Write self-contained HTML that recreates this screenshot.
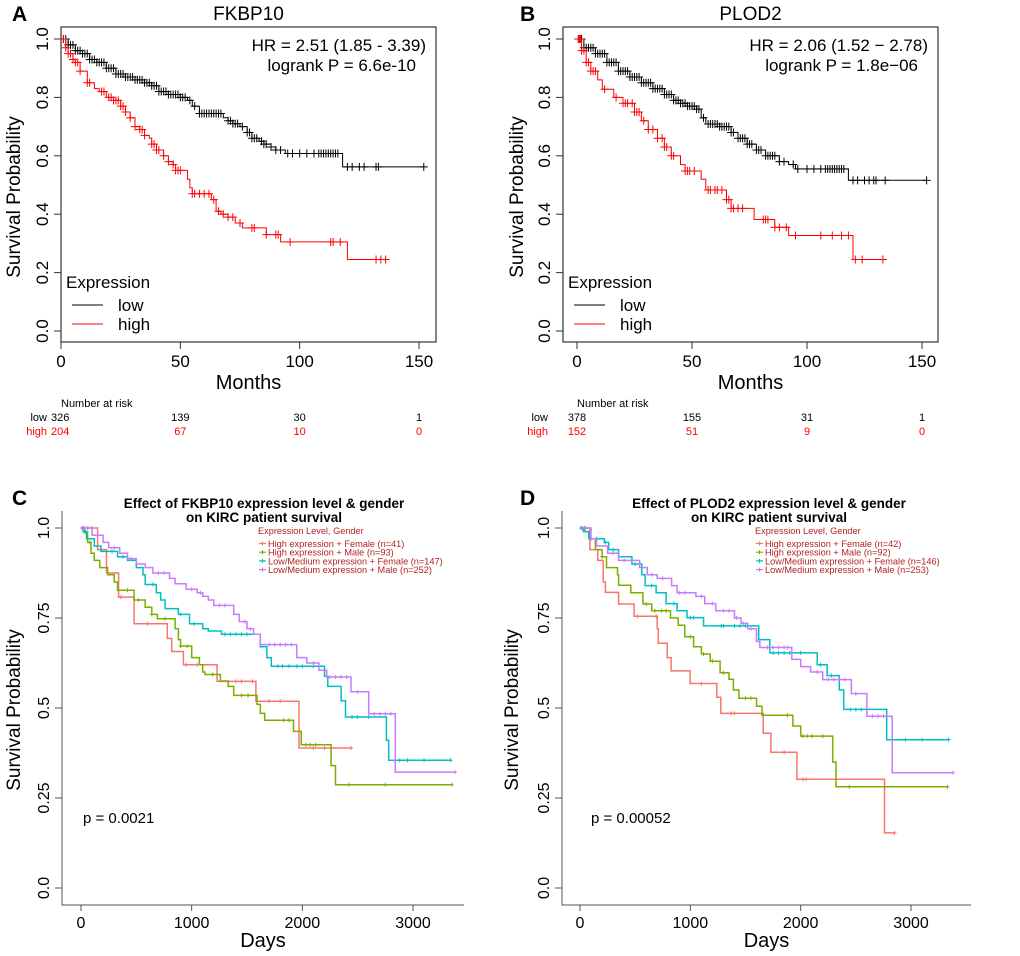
<!DOCTYPE html>
<html><head><meta charset="utf-8"><style>
html,body{margin:0;padding:0;background:#fff;}
svg{display:block;font-family:"Liberation Sans",Arial,sans-serif;}
</style></head><body>
<svg id="fig" width="1020" height="956" viewBox="0 0 1020 956" xmlns="http://www.w3.org/2000/svg">
<g id="static">
<text x="12" y="21" font-size="21" font-weight="bold">A</text>
<text x="520" y="21" font-size="21" font-weight="bold">B</text>
<text x="12" y="505" font-size="21" font-weight="bold">C</text>
<text x="520" y="505" font-size="21" font-weight="bold">D</text>
</g>
</svg>
<script>
// ---------- Panel A data (FKBP10, months) ----------
const aLowT = [0,3,6,9,12,15,19,23,27,31,35,38,41,45,50,53,55,58,68,70,72,75,78,80,83,85,88,90,94,118];
const aLowS = [1,0.98,0.96,0.95,0.93,0.92,0.90,0.88,0.87,0.86,0.85,0.84,0.82,0.81,0.80,0.79,0.77,0.745,0.73,0.72,0.71,0.70,0.68,0.66,0.65,0.64,0.63,0.62,0.608,0.562];
const aLowC = [1,2,3,4,5,6,7,8,9,10,11,12,13,14,15,16,17,18,19,20,21,22,23,24,25,26,27,28,29,30,31,32,33,34,35,36,37,38,39,40,41,42,43,44,45,46,47,48,49,50,51,52,54,56,58,59,60,61,62,63,64,65,66,67,70,71,72,73,74,76,78,79,80,81,82,84,85,86,88,90,92,95,97,100,103,106,108,109,110,111,112,113,114,115,116,120,122,125,127,132,133,152];
const aHighT = [0,2,3,5,6,8,11,14,16,19,22,25,27,29,31,33,35,37,38,40,43,45,47,48,53,54,55,63,65,67,70,73,76,86,92,120];
const aHighS = [1,0.97,0.95,0.93,0.92,0.89,0.85,0.83,0.82,0.80,0.79,0.77,0.75,0.73,0.70,0.69,0.67,0.66,0.64,0.62,0.60,0.58,0.57,0.55,0.52,0.49,0.47,0.45,0.41,0.40,0.39,0.37,0.353,0.33,0.305,0.245];
const aHighC = [1,2,3,4,5,6,7,8,11,12,17,18,20,21,22,23,24,25,26,27,29,31,33,34,35,38,39,40,41,43,45,47,48,49,50,55,56,58,60,62,64,66,68,70,72,75,80,81,86,90,91,96,113,114,117,132,134,136];
const aRiskT = [0,50,100,150];
const aRiskLow = ["326","139","30","1"];
const aRiskHigh = ["204","67","10","0"];
// ---------- Panel B data (PLOD2, months) ----------
const bLowT = [0,3,8,13,18,23,28,33,38,42,45,48,52,54,56,62,67,70,74,78,82,88,92,95,118];
const bLowS = [1,0.97,0.95,0.92,0.89,0.87,0.85,0.83,0.81,0.79,0.78,0.77,0.76,0.73,0.709,0.70,0.68,0.66,0.64,0.62,0.60,0.58,0.57,0.555,0.516];
const bLowC = [1,2,3,4,5,6,7,8,9,10,11,12,13,14,15,16,17,18,19,20,21,22,23,24,25,26,27,28,29,30,31,32,33,34,35,36,37,38,39,40,41,42,43,44,45,46,47,48,49,50,51,52,53,55,57,58,59,60,61,62,63,64,65,66,67,68,70,71,72,73,74,75,76,78,79,80,82,83,84,85,86,88,90,94,96,100,103,106,108,109,110,111,112,113,114,115,116,120,122,125,127,129,130,134,152];
const bHighT = [0,2,4,6,9,11,16,20,25,28,31,35,38,41,45,47,54,56,65,67,77,86,92,120];
const bHighS = [1,0.96,0.92,0.89,0.86,0.828,0.80,0.78,0.75,0.72,0.69,0.66,0.63,0.60,0.57,0.548,0.52,0.483,0.45,0.42,0.382,0.355,0.327,0.245];
const bHighC = [0.5,1,1.5,2,3,4,5,6,7,8,12,17,20,21,22,24,25,26,27,29,31,33,35,37,38,39,41,42,47,48,49,51,57,58,60,61,63,65,66,67,68,70,72,81,82,83,86,88,91,95,106,111,115,118,121,124,133];
const bRiskLow = ["378","155","31","1"];
const bRiskHigh = ["152","51","9","0"];
// ---------- Panel C data (FKBP10 x gender, days) ----------
const cNames = ["High expression + Female (n=41)","High expression + Male (n=93)","Low/Medium expression + Female (n=147)","Low/Medium expression + Male (n=252)"];
const cHFT = [0,150,230,340,480,780,820,925,1230,1580,1970];
const cHFS = [1,0.94,0.875,0.808,0.734,0.693,0.657,0.62,0.574,0.519,0.389];
const cHFC = [20,60,100,360,600,950,1050,1400,1450,1550,1700,1800,2100,2200,2440];
const cHMT = [0,30,60,90,120,170,240,300,330,480,580,640,690,850,880,900,1000,1070,1100,1120,1260,1330,1380,1590,1620,1660,1920,1990,2260,2300];
const cHMS = [1,0.99,0.96,0.93,0.91,0.89,0.87,0.85,0.827,0.80,0.78,0.76,0.748,0.72,0.69,0.672,0.64,0.62,0.60,0.593,0.575,0.56,0.535,0.51,0.485,0.466,0.435,0.398,0.34,0.287];
const cHMC = [10,30,80,420,520,640,760,900,960,1190,1450,1510,1830,1880,2030,2070,2120,2420,2750,3350];
const cLFT = [0,20,50,120,180,330,420,500,560,580,680,720,760,880,980,1100,1150,1270,1620,1680,1720,2200,2230,2350,2390,2760,2780];
const cLFS = [1,0.99,0.97,0.95,0.935,0.92,0.91,0.89,0.87,0.843,0.82,0.80,0.776,0.76,0.734,0.72,0.714,0.705,0.67,0.64,0.616,0.588,0.56,0.52,0.475,0.41,0.355];
const cLFC = [40,280,380,650,900,1020,1300,1350,1400,1450,1500,1780,1820,1880,1950,2000,2100,2450,2500,2600,2880,2950,3100,3340];
const cLMT = [0,100,200,250,350,420,500,580,650,800,850,950,1050,1100,1150,1200,1380,1430,1500,1560,1620,1950,2040,2150,2220,2440,2600,2840];
const cLMS = [1,0.98,0.96,0.945,0.93,0.915,0.90,0.89,0.875,0.86,0.845,0.83,0.82,0.81,0.80,0.785,0.76,0.74,0.72,0.705,0.676,0.64,0.625,0.605,0.586,0.545,0.484,0.322];
const cLMC = [10,30,60,150,300,450,700,750,1000,1080,1250,1300,1480,1530,1700,1750,1800,1850,1900,2100,2250,2300,2350,2400,2500,2650,2700,2750,2800,3380];
const cXTicks = [0,1000,2000,3000];
const cYTicks = [0,0.25,0.5,0.75,1.0];
const cYLabels = ["0.0","0.25","0.5","0.75","1.0"];
// ---------- Panel D data (PLOD2 x gender, days) ----------
const dNames = ["High expression + Female (n=42)","High expression + Male (n=92)","Low/Medium expression + Female (n=146)","Low/Medium expression + Male (n=253)"];
const dHFT = [0,90,160,210,230,350,490,700,710,790,826,998,1240,1276,1660,1730,1966,2760];
const dHFS = [1,0.94,0.91,0.85,0.821,0.789,0.755,0.72,0.68,0.64,0.603,0.568,0.53,0.485,0.43,0.377,0.302,0.153];
const dHFC = [40,520,690,1100,1370,1400,1850,2020,2050,2850];
const dHMT = [0,40,80,140,200,240,340,350,460,570,650,820,890,950,1030,1100,1180,1270,1350,1390,1440,1600,1650,1930,2000,2290,2320];
const dHMS = [1,0.99,0.97,0.94,0.92,0.89,0.87,0.841,0.82,0.789,0.77,0.75,0.73,0.698,0.67,0.65,0.63,0.598,0.58,0.55,0.527,0.505,0.48,0.45,0.422,0.35,0.281];
const dHMC = [20,100,200,600,680,740,780,1000,1120,1200,1300,1500,1550,1880,2020,2060,2100,2200,2440,3330];
const dLFT = [0,30,80,220,260,350,470,560,590,690,780,880,970,1120,1620,1720,2150,2240,2350,2390,2780];
const dLFS = [1,0.99,0.97,0.96,0.94,0.92,0.90,0.87,0.84,0.82,0.79,0.77,0.751,0.728,0.69,0.653,0.62,0.59,0.55,0.496,0.412];
const dLFC = [10,150,230,300,500,650,850,1000,1030,1280,1300,1400,1450,1500,1750,1800,1850,1900,2000,2180,2280,2450,2500,2550,2600,2950,3100,3340];
const dLMT = [0,100,150,250,350,540,610,700,830,880,1050,1130,1230,1400,1460,1520,1600,1630,1920,2000,2090,2200,2460,2600,2830];
const dLMS = [1,0.97,0.95,0.93,0.91,0.89,0.87,0.86,0.84,0.82,0.81,0.79,0.77,0.75,0.735,0.72,0.685,0.668,0.635,0.615,0.60,0.579,0.54,0.477,0.32];
const dLMC = [20,50,300,400,650,750,900,950,1100,1200,1300,1350,1420,1480,1550,1700,1750,1800,1850,1880,2150,2250,2300,2350,2400,2500,2650,2700,2750,3380];

const NS = "http://www.w3.org/2000/svg";
const svg = document.getElementById('fig');
function el(tag, attrs, parent, text){
  const e = document.createElementNS(NS, tag);
  for (const k in attrs) e.setAttribute(k, attrs[k]);
  if (text !== undefined) e.textContent = text;
  (parent||svg).appendChild(e);
  return e;
}
function survAt(T,S,t){let s=S[0];for(let i=0;i<T.length;i++){if(T[i]<=t)s=S[i];}return s;}
function stepPath(T,S,end,xs,ys){
  let d='M'+xs(T[0])+','+ys(S[0]);
  for(let i=1;i<T.length;i++){d+=' H'+xs(T[i]).toFixed(1)+' V'+ys(S[i]).toFixed(1);}
  d+=' H'+xs(end).toFixed(1);
  return d;
}
function drawSeries(g,T,S,C,color,xs,ys,name,ch,cw,lw){
  const end = Math.max(T[T.length-1], C.length?C[C.length-1]:0);
  const p = el('path',{d:stepPath(T,S,end,xs,ys),fill:'none',stroke:color,'stroke-width':lw},g);
  
  
  let d='';
  C.forEach(t=>{const x=xs(t),y=ys(survAt(T,S,t));d+='M'+(x-cw)+','+y+' H'+(x+cw)+' M'+x+','+(y-ch)+' V'+(y+ch)+' ';});
  const c = el('path',{d:d,fill:'none',stroke:color,'stroke-width':1},g);
  
  
}

// ---------- Panels A & B ----------
function panelKM(o){
  const g = el('g',{});
  
  
  const xs = m => o.x0 + m*(o.x150-o.x0)/150;
  const ys = s => 331 - s*292;
  el('text',{x:(o.bl+o.br)/2,y:20,'font-size':19,'text-anchor':'middle'},g,o.title);
  const box = el('rect',{x:o.bl,y:27,width:o.br-o.bl,height:315,fill:'none',stroke:'#333','stroke-width':1.2},g);
  
  [0,50,100,150].forEach(v=>{
    el('line',{x1:xs(v),x2:xs(v),y1:342,y2:349,stroke:'#333'},g);
    const t = el('text',{x:xs(v),y:367,'font-size':17,'text-anchor':'middle'},g,String(v));
    
  });
  [0,0.2,0.4,0.6,0.8,1.0].forEach(v=>{
    const y = ys(v);
    el('line',{x1:o.bl,x2:o.bl-7,y1:y,y2:y,stroke:'#333'},g);
    const t = el('text',{x:o.bl-13,y:y,'font-size':17,'text-anchor':'middle',transform:'rotate(-90 '+(o.bl-13)+' '+y+')'},g,v.toFixed(1));
    
  });
  const xt = el('text',{x:(o.bl+o.br)/2,y:389,'font-size':20,'text-anchor':'middle'},g,'Months');
  
  const yt = el('text',{x:o.yl,y:197,'font-size':19,'text-anchor':'middle',transform:'rotate(-90 '+o.yl+' 197)'},g,'Survival Probability');
  
  drawSeries(g,o.lowT,o.lowS,o.lowC,'#000',xs,ys,o.id+'-low',4,4,1);
  drawSeries(g,o.highT,o.highS,o.highC,'#ff0000',xs,ys,o.id+'-high',4,4,1);
  const hr = el('text',{x:o.br-10,y:51,'font-size':17,'text-anchor':'end'},g,o.hr);
  
  const lp = el('text',{x:o.br-20,y:71,'font-size':17,'text-anchor':'end'},g,o.p);
  
  const lg = el('g',{},g);
  
  
  el('text',{x:o.bl+5,y:288,'font-size':17},lg,'Expression');
  el('line',{x1:o.bl+11,x2:o.bl+42,y1:305,y2:305,stroke:'#000'},lg);
  el('text',{x:o.bl+57,y:311,'font-size':17},lg,'low');
  el('line',{x1:o.bl+11,x2:o.bl+42,y1:324,y2:324,stroke:'#ff0000'},lg);
  el('text',{x:o.bl+57,y:330,'font-size':17},lg,'high');
  const rk = el('g',{'font-size':11},g);
  
  
  el('text',{x:xs(0),y:407},rk,'Number at risk');
  el('text',{x:o.rl,y:421,'text-anchor':'end'},rk,'low');
  el('text',{x:o.rl,y:435,'text-anchor':'end',fill:'#ff0000'},rk,'high');
  aRiskT.forEach((t,i)=>{
    const anchor = (o.id==='a' && i===0) ? 'start' : 'middle';
    const xx = (o.id==='a' && i===0) ? xs(0)-10 : xs(t);
    el('text',{x:xx,y:421,'text-anchor':anchor},rk,o.rLow[i]);
    el('text',{x:xx,y:435,'text-anchor':anchor,fill:'#ff0000'},rk,o.rHigh[i]);
  });
}
panelKM({id:'a',title:'FKBP10',bl:61,br:436,x0:61,x150:419,yl:20,rl:47,lowT:aLowT,lowS:aLowS,lowC:aLowC,highT:aHighT,highS:aHighS,highC:aHighC,hr:'HR = 2.51 (1.85 - 3.39)',p:'logrank P = 6.6e-10',rLow:aRiskLow,rHigh:aRiskHigh});
panelKM({id:'b',title:'PLOD2',bl:563,br:938,x0:577,x150:922,yl:523,rl:548,lowT:bLowT,lowS:bLowS,lowC:bLowC,highT:bHighT,highS:bHighS,highC:bHighC,hr:'HR = 2.06 (1.52 \u2212 2.78)',p:'logrank P = 1.8e\u221206',rLow:bRiskLow,rHigh:bRiskHigh});

// ---------- Panels C & D ----------
const ggCols = ['#F8766D','#7CAE00','#00BFC4','#C77CFF'];
function panelGender(o){
  const g = el('g',{});
  
  
  const xs = d => o.x0 + d*(o.x3000-o.x0)/3000;
  const ys = s => 888 - s*360;
  const t1 = el('text',{x:o.tc,y:508,'font-size':13.5,'font-weight':'bold','text-anchor':'middle'},g,o.title1);
  
  el('text',{x:o.tc,y:522,'font-size':13.5,'font-weight':'bold','text-anchor':'middle'},g,'on KIRC patient survival');
  el('path',{d:'M'+o.ax+',511 V905 H'+o.axEnd,fill:'none',stroke:'#555','stroke-width':1},g);
  cXTicks.forEach(v=>{
    el('line',{x1:xs(v),x2:xs(v),y1:905,y2:911,stroke:'#555'},g);
    const t = el('text',{x:xs(v),y:928,'font-size':16,'text-anchor':'middle'},g,String(v));
    
  });
  cYTicks.forEach((v,i)=>{
    const y = ys(v);
    el('line',{x1:o.ax,x2:o.ax-7,y1:y,y2:y,stroke:'#555'},g);
    const t = el('text',{x:o.ax-13,y:y,'font-size':16,'text-anchor':'middle',transform:'rotate(-90 '+(o.ax-13)+' '+y+')'},g,cYLabels[i]);
    
  });
  const xt = el('text',{x:(o.ax+o.axEnd)/2,y:947,'font-size':20,'text-anchor':'middle'},g,'Days');
  
  const yt = el('text',{x:o.yl,y:710,'font-size':19,'text-anchor':'middle',transform:'rotate(-90 '+o.yl+' 710)'},g,'Survival Probability');
  
  const names = ['high-female','high-male','low-female','low-male'];
  o.series.forEach((s,i)=>drawSeries(g,s[0],s[1],s[2],ggCols[i],xs,ys,o.id+'-'+names[i],2,2,1.5));
  const pv = el('text',{x:o.px,y:823,'font-size':15},g,o.p);
  
  const lg = el('g',{'font-size':9.2},g);
  
  
  el('text',{x:o.lx,y:534,fill:'#b22222'},lg,'Expression Level, Gender');
  o.names.forEach((n,i)=>{
    const y = 543.5+i*8.7;
    el('path',{d:'M'+(o.lx+1)+','+y+' H'+(o.lx+8)+' M'+(o.lx+4.5)+','+(y-2)+' V'+(y+2),stroke:ggCols[i],'stroke-width':1.2},lg);
    el('text',{x:o.lx+10,y:y+3.5,fill:'#b22222'},lg,n);
  });
}
panelGender({id:'c',title1:'Effect of FKBP10 expression level & gender',tc:264,ax:62,axEnd:464,x0:81,x3000:413,yl:20,px:83,p:'p = 0.0021',lx:258,names:cNames,
  series:[[cHFT,cHFS,cHFC],[cHMT,cHMS,cHMC],[cLFT,cLFS,cLFC],[cLMT,cLMS,cLMC]]});
panelGender({id:'d',title1:'Effect of PLOD2 expression level & gender',tc:769,ax:562,axEnd:971,x0:580,x3000:911,yl:518,px:591,p:'p = 0.00052',lx:755,names:dNames,
  series:[[dHFT,dHFS,dHFC],[dHMT,dHMS,dHMC],[dLFT,dLFS,dLFC],[dLMT,dLMS,dLMC]]});
</script>
</body></html>
